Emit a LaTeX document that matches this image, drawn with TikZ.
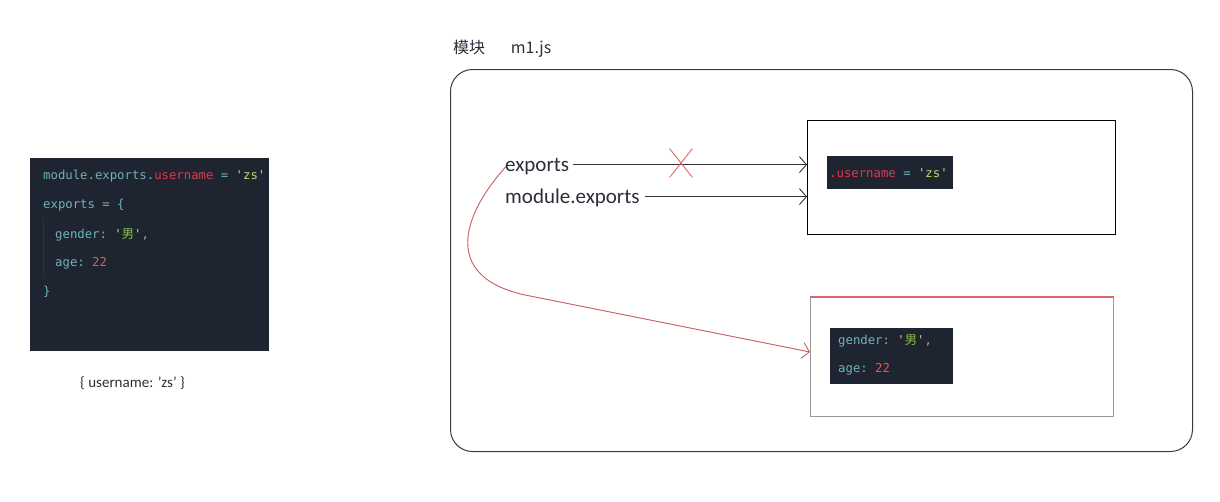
\documentclass[tikz,border=0pt]{standalone}
\usepackage{fontspec}
\setmainfont{Carlito}
\setmonofont{DejaVu Sans Mono}
\newfontfamily\cjk{Noto Sans CJK SC}
\usetikzlibrary{arrows.meta,shapes.misc}
\definecolor{codebg}{HTML}{1E2430}
\definecolor{cteal}{HTML}{6FB3BC}
\definecolor{cred}{HTML}{E8344C}
\definecolor{cstr}{HTML}{C6D86E}
\definecolor{cgreen}{HTML}{8CC04A}
\definecolor{cnum}{HTML}{E05A5A}
\definecolor{guide}{HTML}{2A3240}
\definecolor{frame}{HTML}{3A3A3A}
\definecolor{xred}{HTML}{E06666}
\definecolor{txt}{HTML}{2A2F3A}
\tikzset{
  codebox/.style={fill=codebg, draw=none, inner sep=0pt, anchor=north west},
  codetxt/.style={inner sep=0pt, anchor=base west, text=cteal, font=\ttfamily\fontsize{12.3}{14}\selectfont},
  label/.style={inner sep=0pt, anchor=base west, text=txt, font=\fontsize{21}{24}\selectfont},
  plainbox/.style={draw=black, line width=1pt, inner sep=0pt, anchor=north west},
  arr/.style={draw=black!80, line width=0.9pt, -{Straight Barb[length=7pt,width=16pt]}},
  redarr/.style={draw=xred!90!black, line width=0.9pt, -{Straight Barb[length=7pt,width=16pt]}},
}
\newcommand{\cn}[1]{{\cjk #1}}
\begin{document}
\begin{tikzpicture}[x=1pt,y=-1pt]
\useasboundingbox (0,0) rectangle (1220,501);
\fill[white] (0,0) rectangle (1220,501);

% left code box
\node[codebox, minimum width=239pt, minimum height=193pt] (code) at (30,158) {};
\draw[draw=guide, line width=1pt] (43,217) -- (43,278);
\node[codetxt] (c1) at (43,179) {module.exports.\textcolor{cred}{username} = \textcolor{cstr}{'zs'}};
\node[codetxt] (c2) at (43,208) {exports = \{};
\node[codetxt] (c3) at (55,238) {gender: \textcolor{cstr}{'}\textcolor{cgreen}{\cn{男}}\textcolor{cstr}{'},};
\node[codetxt] (c4) at (55,266) {age: \textcolor{cnum}{22}};
\node[codetxt] (c5) at (43,295) {\}};
\node[inner sep=0pt, anchor=base west, text=txt, font=\fontsize{15}{18}\selectfont] (cap) at (80,387) {\{ username: 'zs' \}};

% module frame
\node[inner sep=0pt, anchor=base west, text=txt, font=\cjk\fontsize{16}{19}\selectfont] (title) at (453,53) {模块\hspace{1.6em}m1.js};
\node[draw=frame, line width=1pt, rounded corners=22pt, inner sep=0pt, anchor=north west, minimum width=742pt, minimum height=382pt] (mod) at (450,69) {};

% top object box
\node[plainbox, minimum width=308pt, minimum height=114pt] (top) at (807,120) {};
\node[codebox, minimum width=126pt, minimum height=33pt] (tin) at (827,156) {};
\node[codetxt] (t1) at (829,177) {\textcolor{cred}{.username} = \textcolor{cstr}{'zs'}};

% bottom object box
\node[draw=gray!80, line width=1pt, inner sep=0pt, anchor=north west, minimum width=303pt, minimum height=119pt] (bot) at (810,297) {};
\draw[draw=xred, line width=1.3pt] (bot.north west) -- (bot.north east);
\node[codebox, minimum width=123pt, minimum height=56pt] (bin) at (830,328) {};
\node[codetxt] (b1) at (838,344) {gender: \textcolor{cstr}{'}\textcolor{cgreen}{\cn{男}}\textcolor{cstr}{'},};
\node[codetxt] (b2) at (838,372) {age: \textcolor{cnum}{22}};

% labels
\node[label] (exp) at (505,171) {exports};
\node[label] (mexp) at (505,203) {module.exports};

% arrows
\draw[arr] ([xshift=4pt,yshift=4pt]exp.mid east) -- ([yshift=4pt]exp.mid east -| top.west);
\draw[arr] ([xshift=5pt,yshift=4pt]mexp.mid east) -- ([yshift=4pt]mexp.mid east -| top.west);
\node[cross out, draw=xred, line width=0.9pt, inner sep=0pt, minimum width=22pt, minimum height=28pt] (cross) at (681,163) {};
\draw[redarr] ([xshift=1pt,yshift=2pt]exp.mid west) .. controls (462,215) and (440,279) .. (530,296) -- ([yshift=5pt]bot.west);
\end{tikzpicture}
\end{document}
